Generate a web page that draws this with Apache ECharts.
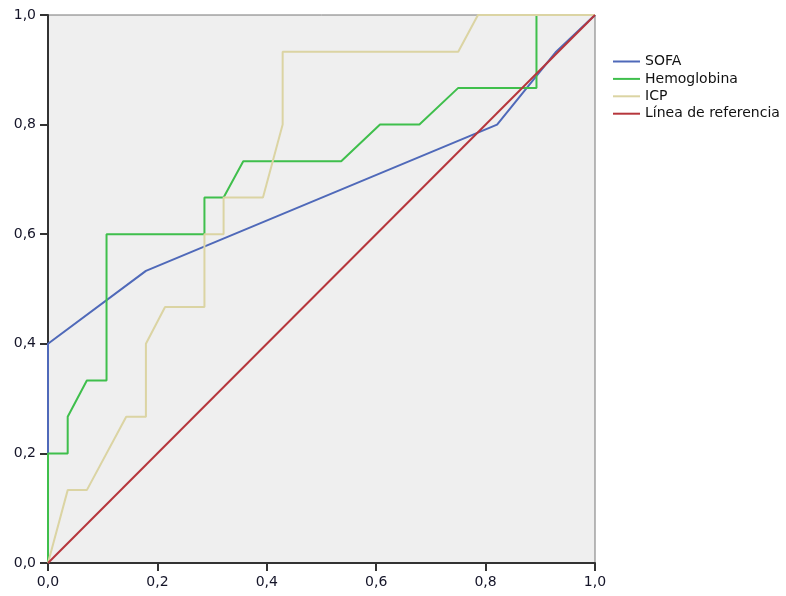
<!DOCTYPE html>
<html>
<head>
<meta charset="utf-8">
<script src="https://cdn.jsdelivr.net/npm/echarts@6/dist/echarts.min.js"></script>
<style>html,body{margin:0;padding:0;background:#fff;}#c{width:786px;height:596px;}</style>
</head>
<body>
<div id="c"></div>
<script>
// 1 - Especificidad (x) and Sensibilidad (y)
var seriesNames = ['SOFA', 'Hemoglobina', 'ICP', 'Línea de referencia'];
var sofaX = [0, 0, 0.179, 0.821, 0.929, 1];
var sofaY = [0, 0.4, 0.533, 0.8, 0.933, 1];
var hemoX = [0, 0, 0.036, 0.036, 0.071, 0.107, 0.107, 0.286, 0.286, 0.321, 0.357, 0.536, 0.607, 0.679, 0.75, 0.893, 0.893, 1];
var hemoY = [0, 0.2, 0.2, 0.267, 0.333, 0.333, 0.6, 0.6, 0.667, 0.667, 0.733, 0.733, 0.8, 0.8, 0.867, 0.867, 1, 1];
var icpX = [0, 0.036, 0.071, 0.143, 0.179, 0.179, 0.214, 0.286, 0.286, 0.321, 0.321, 0.393, 0.429, 0.429, 0.75, 0.786, 1];
var icpY = [0, 0.133, 0.133, 0.267, 0.267, 0.4, 0.467, 0.467, 0.6, 0.6, 0.667, 0.667, 0.8, 0.933, 0.933, 1, 1];
var refX = [0, 1];
var refY = [0, 1];
var tickValues = [0, 0.2, 0.4, 0.6, 0.8, 1.0];
var colors = ['#4f69b9', '#3fbf4c', '#dbd4a3', '#b6363c'];

function pairs(xs, ys) { return xs.map(function (x, i) { return [x, ys[i]]; }); }
var xsAll = [sofaX, hemoX, icpX, refX];
var ysAll = [sofaY, hemoY, icpY, refY];

var chart = echarts.init(document.getElementById('c'), null, {renderer: 'canvas'});
function fmt(v) { return v.toFixed(1).replace('.', ','); }
var axisCommon = {
  type: 'value', min: tickValues[0], max: tickValues[tickValues.length - 1], interval: 0.2,
  axisLine: {show: true, lineStyle: {color: '#333', width: 2}},
  axisTick: {show: true, length: 8, lineStyle: {color: '#333', width: 2}},
  splitLine: {show: false},
  axisLabel: {formatter: fmt, color: '#141428', fontSize: 14, fontFamily: 'DejaVu Sans'}
};
chart.setOption({
  animation: false,
  backgroundColor: '#ffffff',
  color: colors,
  grid: {left: 48, top: 15, width: 547, height: 548, show: true, backgroundColor: '#efefef', borderColor: '#777', borderWidth: 1},
  xAxis: Object.assign({}, axisCommon, {axisLabel: Object.assign({}, axisCommon.axisLabel, {margin: 12})}),
  yAxis: Object.assign({}, axisCommon, {axisLabel: Object.assign({}, axisCommon.axisLabel, {margin: 12})}),
  legend: {
    orient: 'vertical', left: 613, top: 54, padding: 0,
    icon: 'rect', itemWidth: 27, itemHeight: 2, itemGap: 2.4,
    textStyle: {fontSize: 14, color: '#111', fontFamily: 'DejaVu Sans', lineHeight: 15},
    data: seriesNames
  },
  series: seriesNames.map(function (n, i) {
    return {
      name: n, type: 'line', data: pairs(xsAll[i], ysAll[i]),
      showSymbol: false, symbol: 'none', z: 2 + i,
      lineStyle: {color: colors[i], width: 2},
      itemStyle: {color: colors[i]}
    };
  })
});
</script>
</body>
</html>
